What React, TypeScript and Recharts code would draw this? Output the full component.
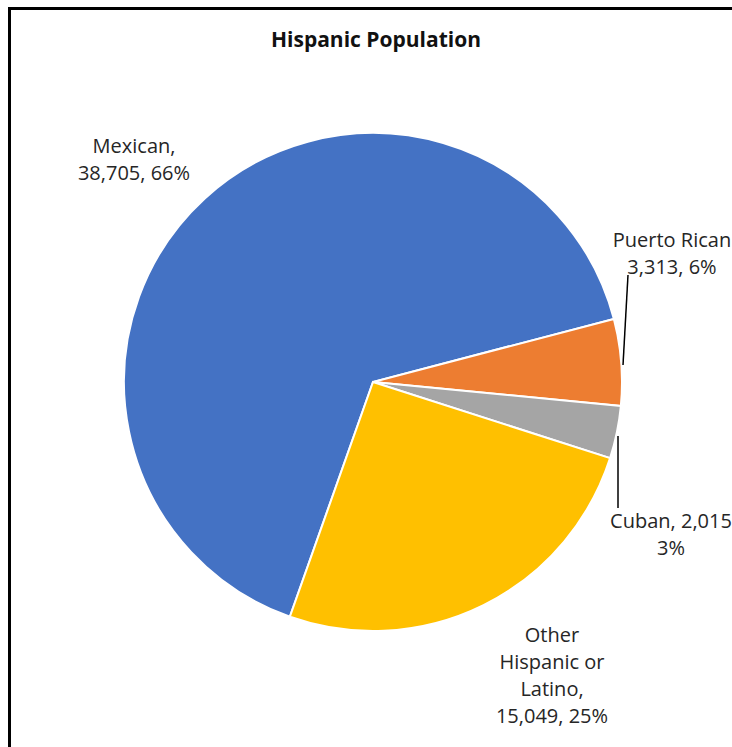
import React from 'react';
import { PieChart, Pie, Cell } from 'recharts';

const categories = ['Mexican', 'Puerto Rican', 'Cuban', 'Other Hispanic or Latino'];
const populations = [38705, 3313, 2015, 15049];
const sliceColors = ['#4472C4', '#ED7D31', '#A5A5A5', '#FFC000'];
const chartTitle = 'Hispanic Population';

// words per wrapped label line
const labelWrap = [[1, 2], [2, 2], [2, 1], [1, 2, 1, 2]];
// label anchor offsets from the pie centre, and optional leader lines
const labelLayout = [
  { dx: -239, dy: -229, line: null },
  { dx: 299, dy: -135, line: [255, -107, 250, -17] },
  { dx: 298, dy: 146, line: [245, 54, 245, 126] },
  { dx: 179, dy: 260, line: null },
];

const total = populations.reduce((a, b) => a + b, 0);
const data = categories.map((name, i) => ({ name, value: populations[i] }));

const FONT = '"Open Sans", "Liberation Sans", sans-serif';
const LINE_H = 27;

const renderLabel = (props: any) => {
  const { cx, cy, index } = props;
  const v = populations[index];
  const pct = Math.round((v / total) * 100);
  const full = `${categories[index]}, ${v.toLocaleString('en-US')}, ${pct}%`;
  const words = full.split(' ');
  const lines: string[] = [];
  let k = 0;
  for (const n of labelWrap[index]) {
    let l = words.slice(k, k + n).join(' ');
    // the reference hides the trailing comma at the right edge
    if (index === 1 || index === 2) {
      if (k === 0) l = l.replace(/,$/, '');
    }
    lines.push(l);
    k += n;
  }
  const lay = labelLayout[index];
  const x = cx + lay.dx;
  const y = cy + lay.dy;
  return (
    <g key={`lbl-${index}`}>
      {lay.line && (
        <line
          x1={cx + lay.line[0]}
          y1={cy + lay.line[1]}
          x2={cx + lay.line[2]}
          y2={cy + lay.line[3]}
          stroke="#000"
          strokeWidth={1.5}
        />
      )}
      <text x={x} y={y} textAnchor="middle" fill="#262626" fontFamily={FONT} fontSize={20}>
        {lines.map((l, i) => (
          <tspan key={i} x={x} y={y + i * LINE_H}>
            {l}
          </tspan>
        ))}
      </text>
    </g>
  );
};

export default function App() {
  return (
    <div
      style={{
        position: 'fixed',
        left: 0,
        top: 0,
        width: 732,
        height: 747,
        overflow: 'hidden',
        background: '#fff',
      }}
    >
      <div style={{ position: 'absolute', left: 0, top: 0 }}>
        <PieChart width={732} height={747} margin={{ top: 0, right: 0, bottom: 0, left: 0 }}>
          <Pie
            data={data}
            dataKey="value"
            nameKey="name"
            cx={373}
            cy={382}
            outerRadius={249}
            startAngle={250.5}
            endAngle={-109.5}
            stroke="#fff"
            strokeWidth={2}
            label={renderLabel}
            labelLine={false}
            isAnimationActive={false}
          >
            {data.map((_, i) => (
              <Cell key={i} fill={sliceColors[i]} />
            ))}
          </Pie>
        </PieChart>
      </div>
      <div style={{ position: 'absolute', left: 8, top: 7, width: 3, height: 760, background: '#000' }} />
      <div style={{ position: 'absolute', left: 8, top: 7, width: 760, height: 3, background: '#000' }} />
      <div
        style={{
          position: 'absolute',
          left: 0,
          width: 752,
          top: 25,
          textAlign: 'center',
          fontFamily: FONT,
          fontWeight: 'bold',
          fontSize: 21,
          lineHeight: '28px',
          color: '#111',
        }}
      >
        {chartTitle}
      </div>
    </div>
  );
}
